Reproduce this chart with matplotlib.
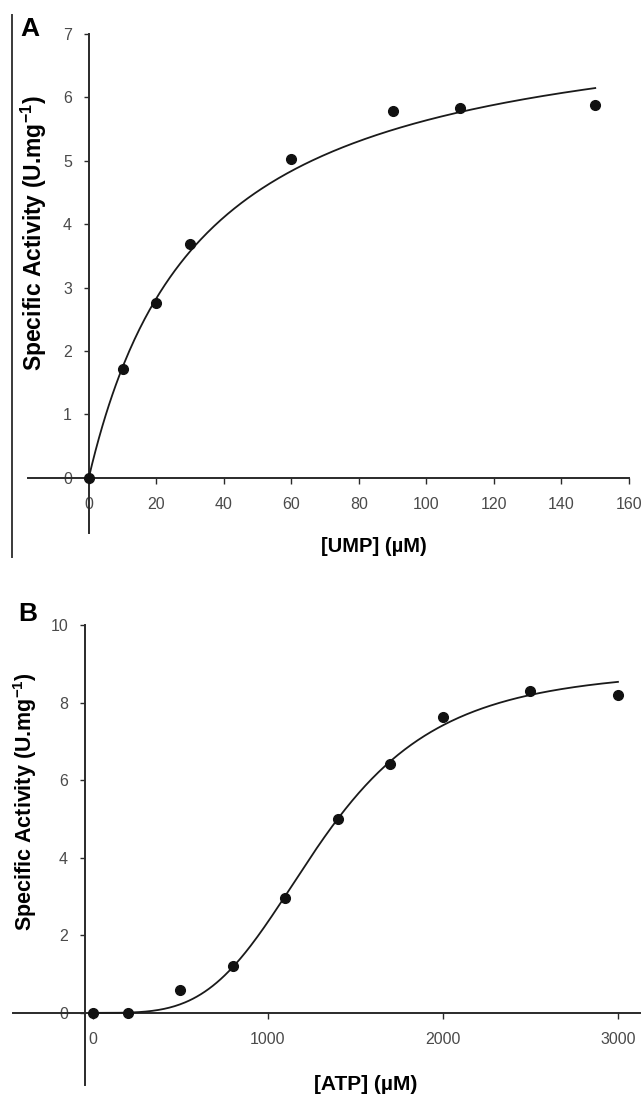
import numpy as np
import matplotlib
matplotlib.use("Agg")
import matplotlib.pyplot as plt
from matplotlib.lines import Line2D

plt.rcParams['font.family'] = ['Liberation Sans', 'DejaVu Sans']
plt.rcParams['mathtext.fontset'] = 'custom'
plt.rcParams['mathtext.rm'] = 'Liberation Sans:bold'
plt.rcParams['mathtext.bf'] = 'Liberation Sans:bold'
plt.rcParams['mathtext.default'] = 'bf'

# Panel A: UMP saturation
ump_conc = [0, 10, 20, 30, 60, 90, 110, 150]
ump_activity = [0.0, 1.72, 2.76, 3.69, 5.03, 5.78, 5.84, 5.88]
VMAX_UMP = 7.5      # U/mg
KM_UMP = 33.0       # uM

# Panel B: ATP saturation (cooperative)
atp_conc = [0, 200, 500, 800, 1100, 1400, 1700, 2000, 2500, 3000]
atp_activity = [0.0, 0.0, 0.6, 1.2, 2.95, 5.0, 6.42, 7.63, 8.3, 8.2]
VMAX_ATP = 8.9      # U/mg
K_HALF_ATP = 1310.0 # uM
HILL_ATP = 3.8

ump_xticks = [0, 20, 40, 60, 80, 100, 120, 140, 160]
ump_yticks = [0, 1, 2, 3, 4, 5, 6, 7]
atp_xticks = [0, 1000, 2000, 3000]
atp_yticks = [0, 2, 4, 6, 8, 10]

YLABEL = 'Specific Activity (U.mg$^{-1}$)'

W, H = 642, 1100
fig = plt.figure(figsize=(W / 100, H / 100), dpi=100)

AXIS_COLOR = '#2a2a2a'
TICK_COLOR = '#4a4a4a'


def px_rect(left, top, right, bottom):
    return [left / W, 1 - bottom / H, (right - left) / W, (bottom - top) / H]


def style_axes(ax, yspine_x):
    for side in ('top', 'right'):
        ax.spines[side].set_visible(False)
    ax.spines['left'].set_position(('data', yspine_x))
    ax.spines['bottom'].set_position(('data', 0))
    for side in ('left', 'bottom'):
        ax.spines[side].set_color(AXIS_COLOR)
        ax.spines[side].set_linewidth(1.4)
    ax.tick_params(axis='y', direction='out', length=3.6, width=1.0,
                   color=AXIS_COLOR, labelsize=11.5, labelcolor=TICK_COLOR, pad=8.5)
    ax.tick_params(axis='x', direction='out', length=4.5, width=1.0,
                   color=AXIS_COLOR, labelsize=11.5, labelcolor=TICK_COLOR, pad=9)
    ax.patch.set_visible(False)


# ---- Panel A ----
axA = fig.add_axes(px_rect(28, 34, 629, 533))
axA.set_xlim(-18, 160)
axA.set_ylim(-0.87, 7)
style_axes(axA, 0)
axA.set_xticks(ump_xticks)
axA.set_yticks(ump_yticks)

xs = np.linspace(0, 150, 300)
axA.plot(xs, VMAX_UMP * xs / (KM_UMP + xs), color='#1a1a1a', lw=1.3, zorder=3)
axA.plot(ump_conc, ump_activity, 'o', color='#111111', ms=7, zorder=4, clip_on=False)

fig.text(30 / W, 1 - 29 / H, 'A', fontsize=19, fontweight='bold', ha='center', va='center')
fig.text(34 / W, 1 - 233 / H, YLABEL, rotation=90, fontsize=16.5, fontweight='bold',
         ha='center', va='center')
fig.text(374 / W, 1 - 546 / H, '[UMP] (µM)', fontsize=14.5, fontweight='bold',
         ha='center', va='center')

# left frame rule beside panel A
fig.add_artist(Line2D([12 / W, 12 / W], [1 - 15 / H, 1 - 557 / H],
                      color='#3a3a3a', lw=1.4, transform=fig.transFigure))

# ---- Panel B ----
axB = fig.add_axes(px_rect(13, 625, 640, 1085))
axB.set_xlim(-457, 3126)
axB.set_ylim(-1.86, 10)
style_axes(axB, -46)
axB.set_xticks(atp_xticks)
axB.set_yticks(atp_yticks)

xb = np.linspace(0, 3000, 400)
axB.plot(xb, VMAX_ATP * xb ** HILL_ATP / (K_HALF_ATP ** HILL_ATP + xb ** HILL_ATP),
         color='#1a1a1a', lw=1.3, zorder=3)
axB.plot(atp_conc, atp_activity, 'o', color='#111111', ms=7, zorder=4, clip_on=False)

fig.text(28 / W, 1 - 614 / H, 'B', fontsize=19, fontweight='bold', ha='center', va='center')
fig.text(25 / W, 1 - 802 / H, YLABEL, rotation=90, fontsize=15.5, fontweight='bold',
         ha='center', va='center')
fig.text(366 / W, 1 - 1084 / H, '[ATP] (µM)', fontsize=15, fontweight='bold',
         ha='center', va='center')

fig.savefig('out.png', dpi=100, facecolor='white')
